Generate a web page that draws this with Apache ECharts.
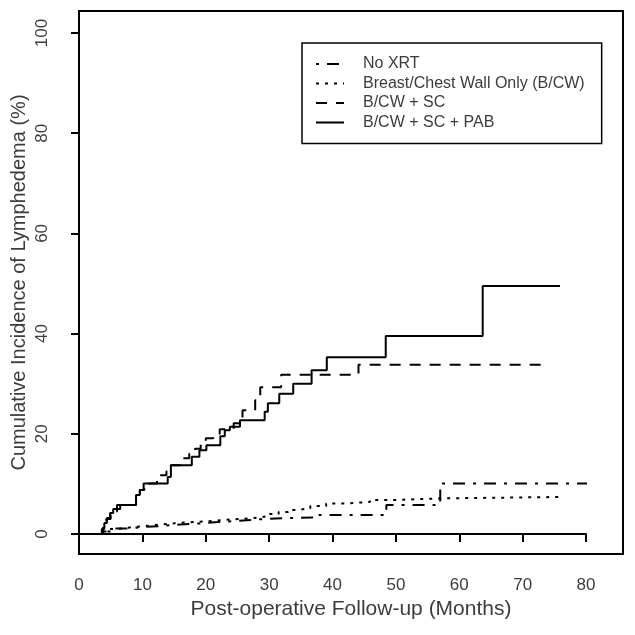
<!DOCTYPE html>
<html>
<head>
<meta charset="utf-8">
<script src="https://cdn.jsdelivr.net/npm/echarts@6/dist/echarts.min.js"></script>
<style>
html,body{margin:0;padding:0;background:#fff;}
#chart{width:635px;height:635px;}
</style>
</head>
<body>
<div id="chart"></div>
<script>
// ---- data (months, cumulative incidence %) ----
const seriesNames = ['No XRT', 'Breast/Chest Wall Only (B/CW)', 'B/CW + SC', 'B/CW + SC + PAB'];

const noXrtX = [0, 3.5, 5.7, 8.0, 10.0, 13.0, 16.0, 19.0, 22.0, 25.0, 28.0, 31.0, 37.0, 48.5, 57.0, 82.2];
const noXrtY = [0, 0.5, 1.1, 1.4, 1.6, 1.9, 2.1, 2.4, 2.6, 2.9, 3.1, 3.3, 3.8, 5.8, 10.1, 10.1];

const bcwX = [0, 3.8, 4.6, 6.0, 8.0, 10.5, 13.0, 15.5, 18.0, 21.0, 24.0, 27.0, 28.5, 30.0, 31.5, 33.0, 34.3, 36.5, 39.0, 42.0, 45.9, 50.0, 57.0, 76.3];
const bcwY = [0, 0.5, 1.0, 1.3, 1.6, 1.9, 2.2, 2.4, 2.6, 2.9, 3.1, 3.3, 3.6, 4.0, 4.4, 4.8, 5.1, 5.6, 6.1, 6.4, 6.8, 7.1, 7.4, 7.4];

const scX = [0, 3.8, 4.3, 5.0, 6.0, 9.0, 9.6, 10.3, 12.3, 13.8, 14.5, 16.0, 17.4, 18.3, 19.2, 20.0, 21.2, 22.2, 24.4, 25.8, 27.8, 28.6, 31.9, 44.1, 73.0];
const scY = [0, 1.5, 3.0, 4.5, 5.8, 7.6, 8.8, 10.1, 11.75, 12.5, 13.7, 15.1, 16.0, 17.0, 18.0, 19.1, 20.0, 20.9, 22.1, 24.7, 26.7, 29.3, 31.8, 33.8, 33.8];

const pabX = [0, 3.6, 4.0, 4.4, 4.9, 5.4, 6.5, 9.0, 9.6, 10.2, 14.0, 14.5, 17.8, 19.0, 20.1, 22.3, 23.0, 23.8, 25.4, 29.3, 29.8, 31.6, 33.8, 36.7, 39.1, 48.4, 63.7, 75.9];
const pabY = [0, 1.0, 2.2, 3.2, 4.2, 5.0, 5.8, 7.8, 8.8, 10.1, 11.4, 13.7, 15.4, 16.7, 17.7, 19.5, 20.7, 21.4, 22.7, 24.4, 26.1, 28.0, 30.0, 32.7, 35.3, 39.5, 49.5, 49.5];

const xTicks = [0, 10, 20, 30, 40, 50, 60, 70, 80];
const yTicks = [0, 20, 40, 60, 80, 100];

// ---- build ----
const zip = (xs, ys) => xs.map((x, i) => [x, ys[i]]);
const FONT = '"Liberation Sans", Arial, sans-serif';
const TXT = '#3c3c3c';

const styles = [
  [12, 8, 3, 8],  // dash-dot
  [3, 6],         // dotted
  [11, 9],        // dashed
  'solid'
];
const offsets = [20, 0, 0, 0];
const datas = [zip(noXrtX, noXrtY), zip(bcwX, bcwY), zip(scX, scY), zip(pabX, pabY)];

const chart = echarts.init(document.getElementById('chart'), null, {renderer: 'canvas'});
chart.setOption({
  animation: false,
  backgroundColor: '#fff',
  textStyle: {fontFamily: FONT},
  grid: [
    {left: 79, right: 635 - 586, top: 33, bottom: 635 - 534, show: false},
    {left: 79, right: 12, top: 11, bottom: 81, show: true, borderColor: '#000', borderWidth: 2, backgroundColor: 'transparent'}
  ],
  xAxis: [
    {
      gridIndex: 0, type: 'value', min: xTicks[0], max: xTicks[xTicks.length - 1], interval: 10, offset: 20,
      axisLine: {show: true, lineStyle: {color: '#000', width: 2}},
      axisTick: {show: true, length: 8, inside: false, lineStyle: {color: '#000', width: 2}},
      axisLabel: {margin: 23, fontSize: 17, color: TXT, fontFamily: FONT},
      splitLine: {show: false}
    },
    {
      gridIndex: 1, type: 'value', min: 0, max: 1,
      axisLine: {show: false}, axisTick: {show: false}, axisLabel: {show: false}, splitLine: {show: false},
      name: 'Post-operative Follow-up (Months)', nameLocation: 'middle', nameGap: 45,
      nameTextStyle: {fontSize: 21, color: TXT, fontFamily: FONT}
    }
  ],
  yAxis: [
    {
      gridIndex: 0, type: 'value', min: yTicks[0], max: yTicks[yTicks.length - 1], interval: 20,
      axisLine: {show: true, lineStyle: {color: '#000', width: 2}},
      axisTick: {show: true, length: 8, inside: false, lineStyle: {color: '#000', width: 2}},
      axisLabel: {margin: 28, rotate: 90, fontSize: 17, color: TXT, fontFamily: FONT},
      splitLine: {show: false}
    },
    {
      gridIndex: 1, type: 'value', min: 0, max: 1,
      axisLine: {show: false}, axisTick: {show: false}, axisLabel: {show: false}, splitLine: {show: false},
      name: 'Cumulative Incidence of Lymphedema (%)', nameLocation: 'middle', nameGap: 50,
      nameTextStyle: {fontSize: 20, color: TXT, fontFamily: FONT}
    }
  ],
  legend: {
    orient: 'vertical', left: 302, top: 43,
    data: seriesNames,
    itemWidth: 28, itemHeight: 12, itemGap: 3.5,
    padding: [13, 17, 13, 13],
    borderColor: '#000', borderWidth: 1.5,
    itemStyle: {opacity: 0},
    textStyle: {fontSize: 16, color: TXT, fontFamily: FONT, lineHeight: 16, padding: [0, 0, 0, 14]}
  },
  series: seriesNames.map((name, i) => ({
    name: name, type: 'line', step: 'end', xAxisIndex: 0, yAxisIndex: 0,
    data: datas[i], symbol: 'none', clip: false,
    lineStyle: {color: '#000', width: 2, type: styles[i], dashOffset: offsets[i]},
    itemStyle: {color: '#000'}
  }))
});
</script>
</body>
</html>
